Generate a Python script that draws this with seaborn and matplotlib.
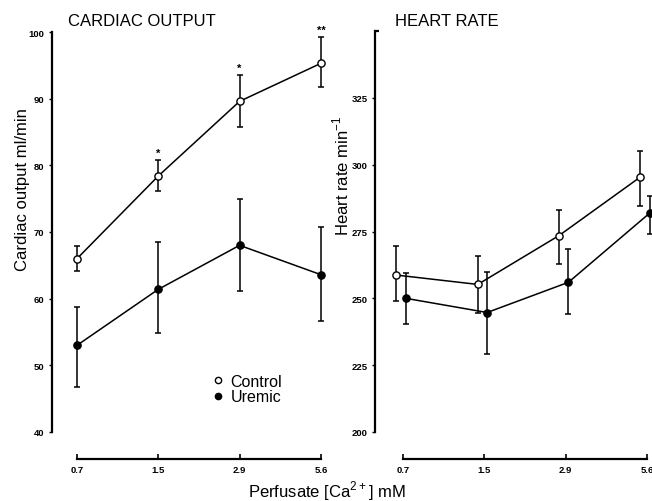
import numpy as np
import pandas as pd
import matplotlib
matplotlib.use("Agg")
import matplotlib.pyplot as plt
import seaborn as sns

# Perfusate calcium concentrations (mM)
ca_levels = ["0.7", "1.5", "2.9", "5.6"]

# Cardiac output (ml/min): means with lower / upper error limits
co_control = [66.0, 78.4, 89.6, 95.3]
co_control_lo = [64.2, 76.2, 85.7, 91.8]
co_control_hi = [67.9, 80.8, 93.5, 99.2]
co_uremic = [53.0, 61.4, 68.0, 63.6]
co_uremic_lo = [46.7, 54.9, 61.2, 56.7]
co_uremic_hi = [58.7, 68.5, 74.9, 70.8]
co_signif = ["", "*", "*", "**"]

# Heart rate (min^-1): means with lower / upper error limits
hr_control = [258.7, 255.2, 273.5, 295.4]
hr_control_lo = [249.1, 244.7, 262.7, 284.6]
hr_control_hi = [269.6, 266.0, 283.0, 305.0]
hr_uremic = [250.0, 244.7, 256.0, 281.9]
hr_uremic_lo = [240.5, 229.3, 244.2, 274.0]
hr_uremic_hi = [259.4, 260.0, 268.5, 288.1]

groups = ["Control", "Uremic"]

sns.set_theme(style="ticks")
plt.rcParams["font.family"] = ["Liberation Sans", "DejaVu Sans"]
plt.rcParams["text.color"] = "black"
plt.rcParams["axes.labelcolor"] = "black"
plt.rcParams["xtick.color"] = "black"
plt.rcParams["ytick.color"] = "black"

W, H = 652, 502
fig = plt.figure(figsize=(W / 100, H / 100), dpi=100)

PX_PER_CAT = 81.3


def make_axes(x_axis_px, first_tick_px, y_top_px, y_bot_px, right_px):
    left = x_axis_px / W
    width = (right_px - x_axis_px) / W
    bottom = 1 - y_bot_px / H
    height = (y_bot_px - y_top_px) / H
    ax = fig.add_axes([left, bottom, width, height])
    x0 = -(first_tick_px - x_axis_px) / PX_PER_CAT
    x1 = x0 + (right_px - x_axis_px) / PX_PER_CAT
    ax.set_xlim(x0, x1)
    return ax


def style_axes(ax, ymin, ymax, yticks, yticklabels):
    ax.set_ylim(ymin, ymax)
    for s in ["top", "right"]:
        ax.spines[s].set_visible(False)
    ax.spines["left"].set_bounds(ymin, ymax)
    ax.spines["bottom"].set_bounds(0, 3)
    ax.spines["bottom"].set_position(("outward", 19.5))
    for s in ["left", "bottom"]:
        ax.spines[s].set_linewidth(1.6)
        ax.spines[s].set_color("black")
    ax.set_yticks(yticks)
    ax.set_yticklabels(yticklabels, fontsize=6.8, fontweight="bold")
    ax.set_xticks(range(len(ca_levels)))
    ax.set_xticklabels(ca_levels, fontsize=6.8, fontweight="bold")
    ax.tick_params(axis="y", direction="out", length=2.5, width=1.0, pad=3, colors="black")
    ax.tick_params(axis="x", direction="in", length=3.5, width=1.2, pad=4, colors="black")
    # small end caps on the value axis
    ax.set_yticks([ymin, ymax], minor=True)
    ax.tick_params(axis="y", which="minor", direction="in", length=3, width=1.6)
    ax.set_xlabel("")
    ax.set_ylabel("")


def draw_series(ax, means, lo, hi, offsets):
    for g, m, l, h, off in zip(groups, means, lo, hi, offsets):
        df = pd.DataFrame({"x": np.arange(len(ca_levels)) + off, "y": m, "group": g})
        face = "white" if g == "Control" else "black"
        ax.errorbar(df["x"], df["y"],
                    yerr=[np.array(m) - np.array(l), np.array(h) - np.array(m)],
                    fmt="none", ecolor="black", elinewidth=1.1, capsize=2.2,
                    capthick=1.1, zorder=2)
        sns.lineplot(data=df, x="x", y="y", ax=ax, color="black", linewidth=1.1,
                     marker="o", markersize=5.2, markerfacecolor=face,
                     markeredgecolor="black", markeredgewidth=1.0,
                     legend=False, zorder=3)


# ---- Cardiac output panel ----
ax1 = make_axes(52, 77, 33, 433, 330)
draw_series(ax1, [co_control, co_uremic], [co_control_lo, co_uremic_lo],
            [co_control_hi, co_uremic_hi], [0.0, 0.0])
style_axes(ax1, 40, 100, [40, 50, 60, 70, 80, 90, 100],
           ["40", "50", "60", "70", "80", "90", "100"])
for i, (star, hi) in enumerate(zip(co_signif, co_control_hi)):
    if star:
        ax1.text(i, hi + 0.3, star, ha="center", va="bottom", fontsize=8,
                 fontweight="bold")
fig.text(68 / W, 1 - 22 / H, "CARDIAC OUTPUT", fontsize=12, ha="left", va="center")
fig.text(23 / W, 1 - 190 / H, "Cardiac output ml/min", fontsize=12,
         rotation=90, ha="center", va="center")

# legend
ax1.plot([], [], "o", color="black", markerfacecolor="white", markersize=4.5,
         markeredgewidth=1.0, label="Control")
ax1.plot([], [], "o", color="black", markerfacecolor="black", markersize=4.5,
         label="Uremic")
ax1.legend(loc="center left", bbox_to_anchor=((205 - 52) / (330 - 52), 1 - (390 - 33) / 400),
           frameon=False, fontsize=11.5, handlelength=0.6, handletextpad=0.5,
           labelspacing=0.05, borderpad=0, labelcolor="black")

# ---- Heart rate panel ----
ax2 = make_axes(375, 403, 32, 433, 680)
draw_series(ax2, [hr_control, hr_uremic], [hr_control_lo, hr_uremic_lo],
            [hr_control_hi, hr_uremic_hi], [-0.08, 0.035])
style_axes(ax2, 200, 350, [200, 225, 250, 275, 300, 325],
           ["200", "225", "250", "275", "300", "325"])
fig.text(395 / W, 1 - 21 / H, "HEART RATE", fontsize=12, ha="left", va="center")
fig.text(341 / W, 1 - 176 / H, "Heart rate min$^{\\mathregular{-1}}$", fontsize=12,
         rotation=90, ha="center", va="center")

fig.text(327 / W, 1 - 491 / H, "Perfusate [Ca$^{\\mathregular{2+}}$] mM", fontsize=12,
         ha="center", va="center")

fig.savefig("out.png", dpi=100, facecolor="white")
